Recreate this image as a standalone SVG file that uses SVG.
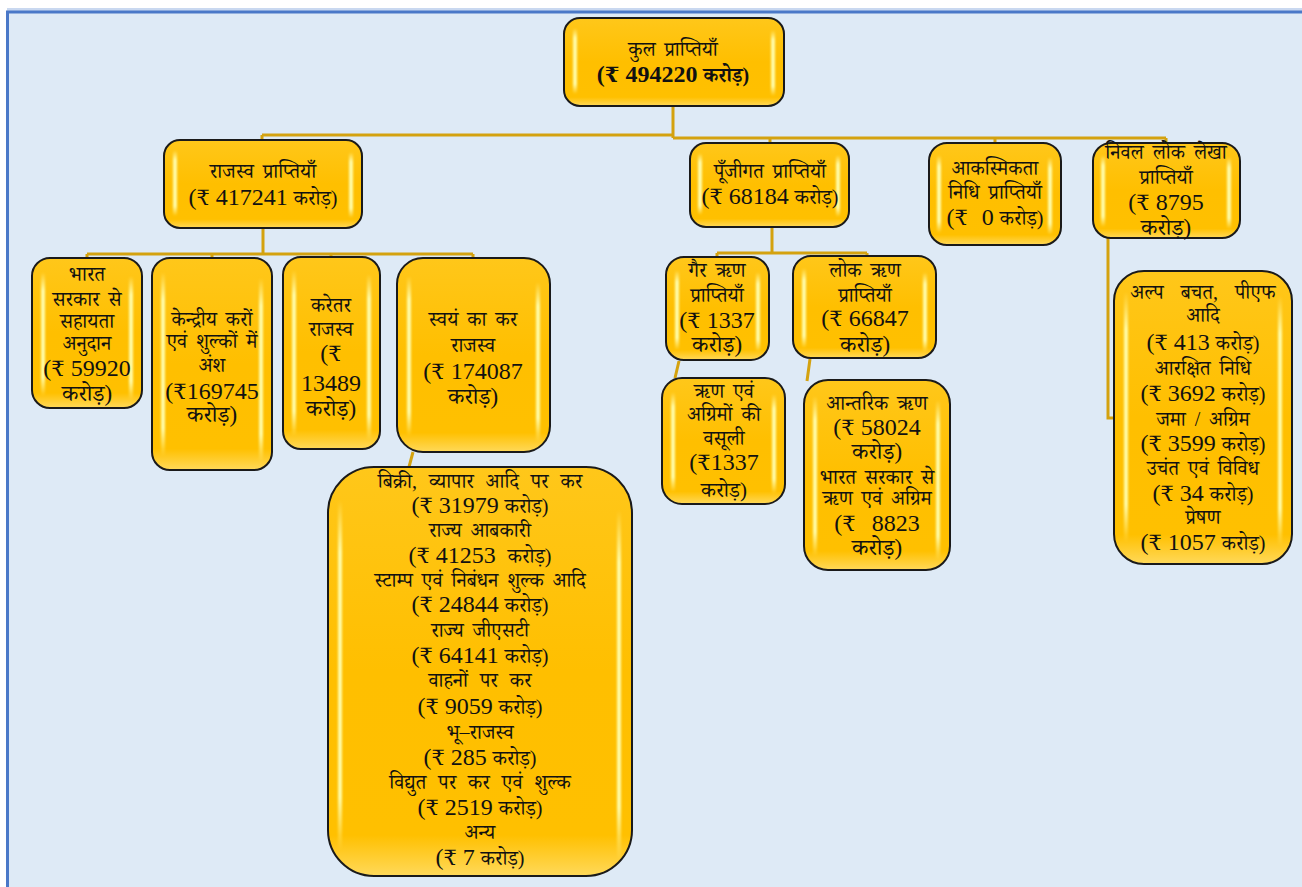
<svg xmlns="http://www.w3.org/2000/svg" width="1302" height="887" viewBox="0 0 1302 887">
<defs>
<linearGradient id="gold" x1="0" y1="0" x2="0" y2="1">
<stop offset="0" stop-color="#FFC71A"/>
<stop offset="0.5" stop-color="#FFBF00"/>
<stop offset="0.9" stop-color="#FFC000"/>
<stop offset="1" stop-color="#FFD95A"/>
</linearGradient>
<linearGradient id="hl" x1="0" y1="0" x2="0" y2="1">
<stop offset="0" stop-color="#FFFFB0" stop-opacity="0"/>
<stop offset="0.15" stop-color="#FFFFB0" stop-opacity="0.95"/>
<stop offset="0.85" stop-color="#FFFFB0" stop-opacity="0.95"/>
<stop offset="1" stop-color="#FFFFB0" stop-opacity="0"/>
</linearGradient>
<filter id="soft" x="-50%" y="-10%" width="200%" height="120%"><feGaussianBlur stdDeviation="1"/></filter>
</defs>
<style>
.box{fill:url(#gold);stroke:#1a1a1a;stroke-width:2}
.hl{fill:url(#hl);filter:url(#soft)}
text{font-family:"Liberation Serif","Noto Serif Devanagari","Noto Sans Devanagari",serif;font-size:20px;fill:#111;text-anchor:middle;word-spacing:4px}
.n{font-family:"Liberation Serif","DejaVu Serif",serif;font-size:24px;word-spacing:0}
.r{font-family:"DejaVu Serif","Noto Sans",serif;font-size:21px}
.k{font-size:23px}
.b{font-weight:bold}
.c{fill:none;stroke:#D4A20F;stroke-width:3}
</style>
<rect x="0" y="0" width="1302" height="887" fill="#ffffff"/>
<rect x="7" y="8" width="1295" height="4" fill="#C9D8F0"/>
<rect x="7" y="11" width="1295" height="876" fill="#DEEAF6"/>
<path d="M7.5 887 V12 H1302" fill="none" stroke="#4A78C8" stroke-width="3"/>

<g id="connectors">
<path class="c" d="M673 105 V138 M262 135 H673 M262 135 V141 M673 138 H1166 M770 138 V143 M995 138 V143 M1166 138 V143"/>
<path class="c" d="M263 228 V254 M87 254 H473 M87 254 V259 M212 254 V259 M331 254 V258 M473 254 V259"/>
<path class="c" d="M413 452 L409 467"/>
<path class="c" d="M772 227 V253 M717 253 H867 M717 253 V258 M867 253 V257"/>
<path class="c" d="M679 361 L675 378 M810 359 L807 381"/>
<path class="c" d="M1108 238 V418 H1114"/>
</g>

<g id="n-total">
<rect class="box" x="564" y="18" width="220" height="88" rx="16"/>
<rect class="hl" x="573" y="28" width="4" height="66" rx="2"/><rect class="hl" x="771" y="30" width="4" height="66" rx="2"/>
<text x="673" y="56">कुल प्राप्तियाँ</text>
<text x="673" y="82" class="b"><tspan class="n">(</tspan><tspan class="r">₹</tspan><tspan class="n"> 494220 </tspan>करोड़)</text>
</g>

<g id="n-rajasv">
<rect class="box" x="164" y="140" width="198" height="88" rx="16"/>
<rect class="hl" x="173" y="150" width="4" height="66" rx="2"/><rect class="hl" x="349" y="152" width="4" height="66" rx="2"/>
<text x="263" y="178">राजस्व प्राप्तियाँ</text>
<text x="263" y="205"><tspan class="n">(</tspan><tspan class="r">₹</tspan><tspan class="n"> 417241 </tspan>करोड़)</text>
</g>

<g id="n-punjigat">
<rect class="box" x="690" y="143" width="159" height="84" rx="16"/>
<rect class="hl" x="698" y="153" width="4" height="62" rx="2"/><rect class="hl" x="836" y="155" width="4" height="62" rx="2"/>
<text x="770" y="178">पूँजीगत प्राप्तियाँ</text>
<text x="770" y="204"><tspan class="n">(</tspan><tspan class="r">₹</tspan><tspan class="n"> 68184 </tspan>करोड़)</text>
</g>

<g id="n-akasmik">
<rect class="box" x="929" y="143" width="132" height="102" rx="18"/>
<rect class="hl" x="937" y="155" width="4" height="78" rx="2"/><rect class="hl" x="1048" y="157" width="4" height="78" rx="2"/>
<text x="995" y="175">आकस्मिकता</text>
<text x="995" y="199">निधि प्राप्तियाँ</text>
<text x="995" y="225"><tspan class="n">(</tspan><tspan class="r">₹</tspan><tspan class="n" dx="8"> 0 </tspan>करोड़)</text>
</g>

<g id="n-nival">
<rect class="box" x="1093" y="143" width="147" height="95" rx="18"/>
<rect class="hl" x="1101" y="155" width="4" height="72" rx="2"/><rect class="hl" x="1227" y="157" width="4" height="72" rx="2"/>
<text x="1166" y="159">निवल लोक लेखा</text>
<text x="1166" y="184">प्राप्तियाँ</text>
<text x="1166" y="210"><tspan class="n">(</tspan><tspan class="r">₹</tspan><tspan class="n"> 8795</tspan></text>
<text x="1166" y="235" class="k">करोड़)</text>
</g>

<g id="n-bharat">
<rect class="box" x="32" y="258" width="110" height="150" rx="18"/>
<rect class="hl" x="41" y="272" width="4" height="124" rx="2"/><rect class="hl" x="129" y="276" width="4" height="124" rx="2"/>
<text x="87" y="281">भारत</text>
<text x="87" y="306">सरकार से</text>
<text x="87" y="328">सहायता</text>
<text x="87" y="350">अनुदान</text>
<text x="87" y="376"><tspan class="n">(</tspan><tspan class="r">₹</tspan><tspan class="n"> 59920</tspan></text>
<text x="87" y="401" class="k">करोड़)</text>
</g>

<g id="n-kendriya">
<rect class="box" x="152" y="258" width="120" height="212" rx="18"/>
<rect class="hl" x="161" y="272" width="4" height="184" rx="2"/><rect class="hl" x="259" y="278" width="4" height="184" rx="2"/>
<text x="212" y="326">केन्द्रीय करों</text>
<text x="212" y="348">एवं शुल्कों में</text>
<text x="212" y="372">अंश</text>
<text x="212" y="399"><tspan class="n">(</tspan><tspan class="r">₹</tspan><tspan class="n">169745</tspan></text>
<text x="212" y="422" class="k">करोड़)</text>
</g>

<g id="n-karetar">
<rect class="box" x="283" y="257" width="97" height="192" rx="18"/>
<rect class="hl" x="292" y="270" width="4" height="166" rx="2"/><rect class="hl" x="367" y="274" width="4" height="166" rx="2"/>
<text x="331" y="312">करेतर</text>
<text x="331" y="336">राजस्व</text>
<text x="331" y="361"><tspan class="n">(</tspan><tspan class="r">₹</tspan></text>
<text x="331" y="391" class="n">13489</text>
<text x="331" y="416" class="k">करोड़)</text>
</g>

<g id="n-svayam">
<rect class="box" x="397" y="258" width="153" height="194" rx="26"/>
<rect class="hl" x="407" y="276" width="4" height="160" rx="2"/><rect class="hl" x="536" y="282" width="4" height="160" rx="2"/>
<text x="473" y="326">स्वयं का कर</text>
<text x="473" y="352">राजस्व</text>
<text x="473" y="379"><tspan class="n">(</tspan><tspan class="r">₹</tspan><tspan class="n"> 174087</tspan></text>
<text x="473" y="404" class="k">करोड़)</text>
</g>

<g id="n-bikri">
<rect class="box" x="328" y="467" width="304" height="409" rx="46"/>
<rect class="hl" x="338" y="500" width="4" height="350" rx="2"/><rect class="hl" x="617" y="510" width="4" height="350" rx="2"/>
<text x="480" y="488" style="word-spacing:7px">बिक्री, व्यापार आदि पर कर</text>
<text x="480" y="513"><tspan class="n">(</tspan><tspan class="r">₹</tspan><tspan class="n"> 31979 </tspan>करोड़)</text>
<text x="480" y="537">राज्य आबकारी</text>
<text x="480" y="563"><tspan class="n">(</tspan><tspan class="r">₹</tspan><tspan class="n"> 41253 </tspan><tspan dx="6">करोड़)</tspan></text>
<text x="480" y="587">स्टाम्प एवं निबंधन शुल्क आदि</text>
<text x="480" y="612"><tspan class="n">(</tspan><tspan class="r">₹</tspan><tspan class="n"> 24844 </tspan>करोड़)</text>
<text x="480" y="637">राज्य जीएसटी</text>
<text x="480" y="663"><tspan class="n">(</tspan><tspan class="r">₹</tspan><tspan class="n"> 64141 </tspan>करोड़)</text>
<text x="480" y="687" style="word-spacing:7px">वाहनों पर कर</text>
<text x="480" y="714"><tspan class="n">(</tspan><tspan class="r">₹</tspan><tspan class="n"> 9059 </tspan>करोड़)</text>
<text x="480" y="739">भू–राजस्व</text>
<text x="480" y="765"><tspan class="n">(</tspan><tspan class="r">₹</tspan><tspan class="n"> 285 </tspan>करोड़)</text>
<text x="480" y="789" style="word-spacing:7px">विद्युत पर कर एवं शुल्क</text>
<text x="480" y="815"><tspan class="n">(</tspan><tspan class="r">₹</tspan><tspan class="n"> 2519 </tspan>करोड़)</text>
<text x="480" y="839">अन्य</text>
<text x="480" y="865"><tspan class="n">(</tspan><tspan class="r">₹</tspan><tspan class="n"> 7 </tspan>करोड़)</text>
</g>

<g id="n-gair">
<rect class="box" x="666" y="257" width="103" height="103" rx="18"/>
<rect class="hl" x="675" y="270" width="4" height="80" rx="2"/><rect class="hl" x="756" y="272" width="4" height="80" rx="2"/>
<text x="717" y="277">गैर ऋण</text>
<text x="717" y="302">प्राप्तियाँ</text>
<text x="717" y="328"><tspan class="n">(</tspan><tspan class="r">₹</tspan><tspan class="n"> 1337</tspan></text>
<text x="717" y="352" class="k">करोड़)</text>
</g>

<g id="n-lok">
<rect class="box" x="793" y="256" width="143" height="102" rx="18"/>
<rect class="hl" x="802" y="268" width="4" height="80" rx="2"/><rect class="hl" x="923" y="272" width="4" height="80" rx="2"/>
<text x="865" y="277">लोक ऋण</text>
<text x="865" y="302">प्राप्तियाँ</text>
<text x="865" y="326"><tspan class="n">(</tspan><tspan class="r">₹</tspan><tspan class="n"> 66847</tspan></text>
<text x="865" y="352" class="k">करोड़)</text>
</g>

<g id="n-rinvasuli">
<rect class="box" x="662" y="378" width="123" height="126" rx="20"/>
<rect class="hl" x="671" y="392" width="4" height="100" rx="2"/><rect class="hl" x="772" y="394" width="4" height="100" rx="2"/>
<text x="724" y="398">ऋण एवं</text>
<text x="724" y="421">अग्रिमों की</text>
<text x="724" y="445">वसूली</text>
<text x="724" y="470"><tspan class="n">(</tspan><tspan class="r">₹</tspan><tspan class="n">1337</tspan></text>
<text x="724" y="497" style="font-size:21px">करोड़)</text>
</g>

<g id="n-antarik">
<rect class="box" x="804" y="380" width="146" height="190" rx="24"/>
<rect class="hl" x="813" y="396" width="4" height="160" rx="2"/><rect class="hl" x="936" y="400" width="4" height="160" rx="2"/>
<text x="877" y="410">आन्तरिक ऋण</text>
<text x="877" y="435"><tspan class="n">(</tspan><tspan class="r">₹</tspan><tspan class="n"> 58024</tspan></text>
<text x="877" y="459" class="k">करोड़)</text>
<text x="877" y="484">भारत सरकार से</text>
<text x="877" y="505">ऋण एवं अग्रिम</text>
<text x="877" y="531"><tspan class="n">(</tspan><tspan class="r">₹</tspan><tspan class="n" dx="10"> 8823</tspan></text>
<text x="877" y="555" class="k">करोड़)</text>
</g>

<g id="n-alpa">
<rect class="box" x="1114" y="271" width="178" height="293" rx="30"/>
<rect class="hl" x="1124" y="292" width="4" height="250" rx="2"/><rect class="hl" x="1278" y="296" width="4" height="250" rx="2"/>
<text x="1203" y="299" style="word-spacing:12px">अल्प बचत, पीएफ</text>
<text x="1203" y="322">आदि</text>
<text x="1203" y="350"><tspan class="n">(</tspan><tspan class="r">₹</tspan><tspan class="n"> 413 </tspan>करोड़)</text>
<text x="1203" y="375">आरक्षित निधि</text>
<text x="1203" y="401"><tspan class="n">(</tspan><tspan class="r">₹</tspan><tspan class="n"> 3692 </tspan>करोड़)</text>
<text x="1203" y="426">जमा / अग्रिम</text>
<text x="1203" y="451"><tspan class="n">(</tspan><tspan class="r">₹</tspan><tspan class="n"> 3599 </tspan>करोड़)</text>
<text x="1203" y="475">उचंत एवं विविध</text>
<text x="1203" y="501"><tspan class="n">(</tspan><tspan class="r">₹</tspan><tspan class="n"> 34 </tspan>करोड़)</text>
<text x="1203" y="524">प्रेषण</text>
<text x="1203" y="550"><tspan class="n">(</tspan><tspan class="r">₹</tspan><tspan class="n"> 1057 </tspan>करोड़)</text>
</g>
</svg>
